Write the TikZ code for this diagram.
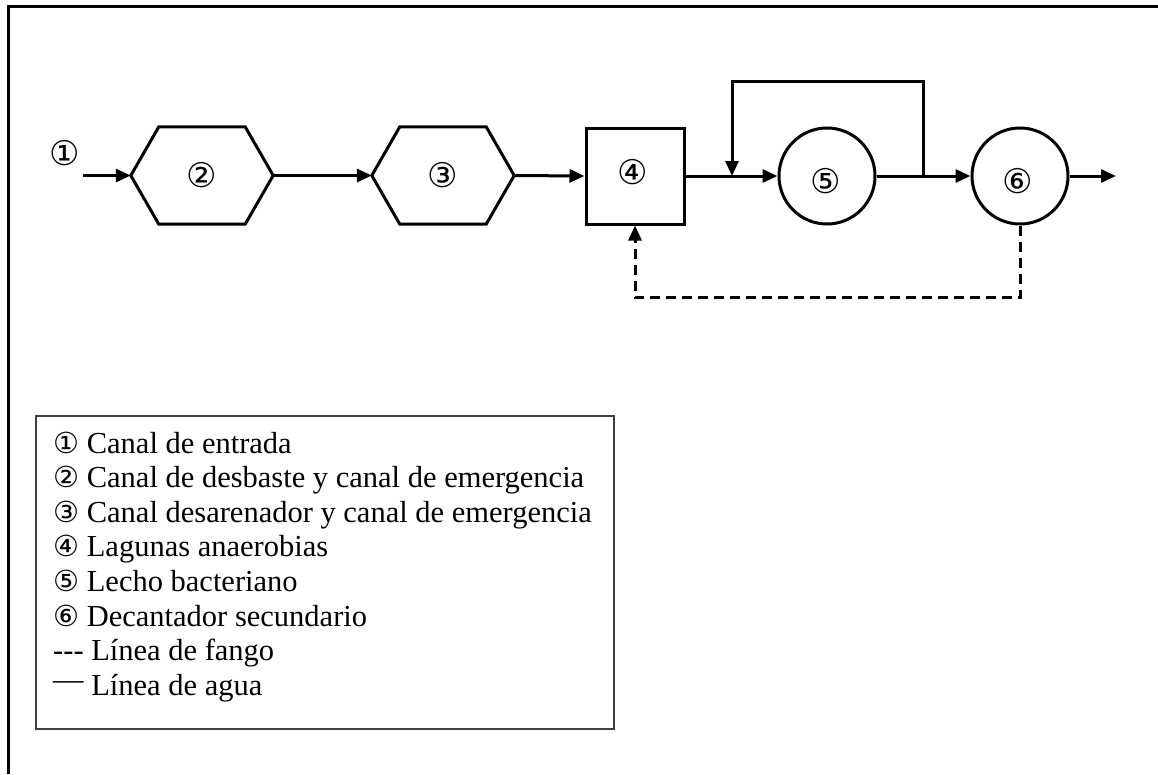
\documentclass[tikz,border=0pt]{standalone}
\usepackage{fontspec}
\setmainfont{Liberation Serif}
\newfontfamily\symfont{DejaVu Sans}
\usetikzlibrary{arrows.meta}

\newcommand\unitfont{\symfont\fontsize{34}{34}\selectfont}
\newcommand\keyfont{\symfont\fontsize{29}{29}\selectfont}

\tikzset{
  unit/.style={line width=3pt, draw=black, inner sep=0pt, font=\unitfont},
  hexbox/.style={inner sep=0pt, minimum width=142pt, minimum height=97pt, font=\unitfont},
  squarebox/.style={unit, rectangle, minimum width=98pt, minimum height=96pt},
  roundbox/.style={unit, circle, minimum size=96pt},
  outline/.style={line width=3pt, line join=miter},
  flow/.style={line width=3pt, -{Triangle[length=15pt,width=13pt]}},
  sludge/.style={line width=3pt, dash pattern=on 10pt off 6pt, -{Triangle[length=15pt,width=13pt]}},
  tag/.style={inner sep=0pt, font=\unitfont},
  legendline/.style={anchor=base west, inner sep=0pt, font=\fontsize{30.5}{34}\selectfont},
}

\begin{document}
\begin{tikzpicture}[x=1pt, y=-1pt]
  \useasboundingbox (0,0) rectangle (1158,774);
  \fill[white] (0,0) rectangle (1158,774);

  % open page frame (top and left edges)
  \draw[line width=3pt] (8,774) -- (8,6) -- (1158,6);

  % treatment units
  \node[tag] (t1) at (65,153) {①};
  \node[hexbox] (h2) at (202,175.5) {②};
  \node[hexbox] (h3) at (443,175.5) {③};
  \draw[outline] (h2.west) -- ([xshift=28pt]h2.north west) -- ([xshift=-28pt]h2.north east)
    -- (h2.east) -- ([xshift=-28pt]h2.south east) -- ([xshift=28pt]h2.south west) -- cycle;
  \draw[outline] (h3.west) -- ([xshift=28pt]h3.north west) -- ([xshift=-28pt]h3.north east)
    -- (h3.east) -- ([xshift=-28pt]h3.south east) -- ([xshift=28pt]h3.south west) -- cycle;
  \node[squarebox] (s4) at (635,176) {};
  \node[tag] at (633,172) {④};
  \node[roundbox] (c5) at (827,176) {};
  \node[tag] at (826,181) {⑤};
  \node[roundbox] (c6) at (1020,176) {};
  \node[tag] at (1018,181) {⑥};

  % water line
  \coordinate (inlet) at (83,175.5);
  \coordinate (outlet) at (1116,176);
  \coordinate (split) at (732,176);
  \coordinate (merge) at (923,176);
  \coordinate (looptop) at (732,81);
  \draw[flow] (inlet) -- (h2.west);
  \draw[flow] (h2.east) -- (h3.west);
  \draw[flow] (h3.east) -- (s4.west);
  \draw[flow] (s4.east) -- (c5.west);
  \draw[flow] (c5.east) -- (c6.west);
  \draw[flow] (c6.east) -- (outlet);
  \draw[flow, line join=miter] (merge) |- (looptop) -- (split);

  % sludge line
  \draw[sludge] (c6.south) |- ([yshift=-72pt]s4.south) -- (s4.south);

  % legend
  \node[draw=black!75, line width=2pt, minimum width=578pt, minimum height=313pt, anchor=north west, inner sep=0pt] (legend) at (35,415) {};
  \node[legendline] (l1) at (53,453) {{\keyfont ①} Canal de entrada};
  \node[legendline] (l2) at (53,487.6) {{\keyfont ②} Canal de desbaste y canal de emergencia};
  \node[legendline] (l3) at (53,522.2) {{\keyfont ③} Canal desarenador y canal de emergencia};
  \node[legendline] (l4) at (53,556.8) {{\keyfont ④} Lagunas anaerobias};
  \node[legendline] (l5) at (53,591.4) {{\keyfont ⑤} Lecho bacteriano};
  \node[legendline] (l6) at (53,626) {{\keyfont ⑥} Decantador secundario};
  \node[legendline] (l7) at (53,660.6) {-{}-{}- Línea de fango};
  \node[legendline] (l8) at (53,695.2) {\raisebox{6pt}{—} Línea de agua};
\end{tikzpicture}
\end{document}
